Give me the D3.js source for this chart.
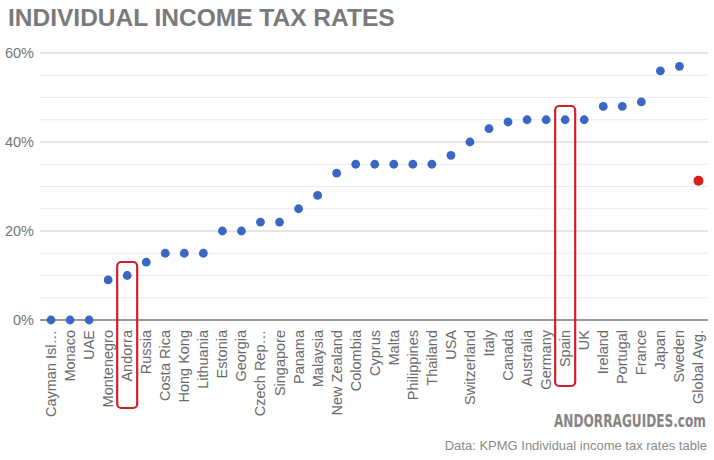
<!DOCTYPE html>
<html><head><meta charset="utf-8">
<script src="https://cdn.jsdelivr.net/npm/d3@7"></script>
<style>html,body{margin:0;padding:0;background:#fff;}svg{display:block;}</style>
</head><body>
<script>
const categories = ["Cayman Isl…","Monaco","UAE","Montenegro","Andorra","Russia","Costa Rica","Hong Kong","Lithuania","Estonia","Georgia","Czech Rep…","Singapore","Panama","Malaysia","New Zealand","Colombia","Cyprus","Malta","Philippines","Thailand","USA","Switzerland","Italy","Canada","Australia","Germany","Spain","UK","Ireland","Portugal","France","Japan","Sweden","Global Avg."];
const rates = [0,0,0,9,10,13,15,15,15,20,20,22,22,25,28,33,35,35,35,35,35,37,40,43,44.5,45,45,45,45,48,48,49,56,57,31.3];
const highlighted = ["Global Avg."];
const boxed = ["Andorra","Spain"];
const yTicks = [0,20,40,60];
const minorTicks = [5,10,15,25,30,35,45,50,55];

const W = 714, H = 460;
const svg = d3.select("body").append("svg").attr("width", W).attr("height", H);
const x = d3.scaleBand().domain(categories).range([41.5, 708]);
const y = d3.scaleLinear().domain([0, 60]).range([320, 53]);
const L = 40, R = 708;

svg.append("text").attr("x", 8).attr("y", 25.5)
  .attr("font-family", "Liberation Sans, Arial, sans-serif").attr("font-weight", "bold")
  .attr("font-size", 24.5).attr("fill", "#7a7a7a").text("INDIVIDUAL INCOME TAX RATES");

svg.append("g").selectAll("line").data(minorTicks).join("line")
  .attr("x1", L).attr("x2", R).attr("y1", d => y(d)).attr("y2", d => y(d))
  .attr("stroke", "#ebebeb").attr("stroke-width", 1);
svg.append("g").selectAll("line").data(yTicks.filter(d => d > 0)).join("line")
  .attr("x1", L).attr("x2", R).attr("y1", d => y(d)).attr("y2", d => y(d))
  .attr("stroke", "#cccccc").attr("stroke-width", 1);
svg.append("line").attr("x1", L).attr("x2", R).attr("y1", y(0)).attr("y2", y(0))
  .attr("stroke", "#333").attr("stroke-width", 1.2);

svg.append("g").selectAll("text").data(yTicks).join("text")
  .attr("x", 34).attr("y", d => y(d) + 5).attr("text-anchor", "end")
  .attr("font-family", "Liberation Sans, Arial, sans-serif").attr("font-size", 14.5)
  .attr("fill", "#757575").text(d => d + "%");

svg.append("g").selectAll("text").data(categories).join("text")
  .attr("transform", d => `translate(${x(d) + x.bandwidth() / 2 + 5},330) rotate(-90)`)
  .attr("text-anchor", "end")
  .attr("font-family", "Liberation Sans, Arial, sans-serif").attr("font-size", 14.5)
  .attr("fill", "#6a6a6a").text(d => d);

svg.append("g").selectAll("circle").data(categories).join("circle")
  .attr("cx", d => x(d) + x.bandwidth() / 2)
  .attr("cy", (d, i) => y(rates[i]))
  .attr("r", d => highlighted.includes(d) ? 5 : 4.4)
  .attr("fill", d => highlighted.includes(d) ? "#d81e1e" : "#3a66c4");

const boxTops = {"Andorra": 262, "Spain": 106};
const boxBottoms = {"Andorra": 408, "Spain": 386};
svg.append("g").selectAll("rect").data(boxed).join("rect")
  .attr("x", d => x(d) + x.bandwidth() / 2 - 10)
  .attr("width", 20)
  .attr("y", d => boxTops[d]).attr("height", d => boxBottoms[d] - boxTops[d])
  .attr("rx", 4).attr("fill", "none").attr("stroke", "#d0202a").attr("stroke-width", 2.2);

const wm = svg.append("text")
  .attr("font-family", "DejaVu Sans Condensed, Liberation Sans Narrow, sans-serif")
  .attr("font-weight", "bold").attr("font-size", 17.5).attr("fill", "#858585")
  .text("ANDORRAGUIDES.com");
const wmW = wm.node().getComputedTextLength();
const sx = 152 / wmW;
wm.attr("transform", `translate(554,426.5) scale(${sx},1)`);

svg.append("text").attr("x", 707).attr("y", 450).attr("text-anchor", "end")
  .attr("font-family", "Liberation Sans, Arial, sans-serif").attr("font-size", 13)
  .attr("fill", "#8a8a8a").text("Data: KPMG Individual income tax rates table");
</script>
</body></html>
